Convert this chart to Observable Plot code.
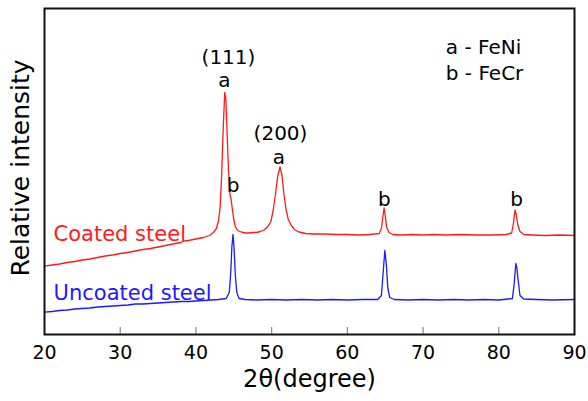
<!DOCTYPE html>
<html>
<head>
<meta charset="utf-8">
<script src="https://cdn.jsdelivr.net/npm/d3@7"></script>
<script src="https://cdn.jsdelivr.net/npm/@observablehq/plot@0.6"></script>
<style>
  html, body { margin: 0; padding: 0; background: #fff; }
  #chart svg { display: block; }
</style>
</head>
<body>
<div id="chart"></div>
<script>
// ---- Data (2θ in degrees, relative intensity in arbitrary units) ----
const coatedTheta = [20,21,22,23,24,25,26,27,28,29,30,31,32,33,34,35,36,37,38,38.5,39,40,41,41.8,42.3,42.7,43.0,43.2,43.4,43.6,43.8,43.95,44.1,44.3,44.5,44.65,44.8,45.0,45.2,45.5,46,46.5,47,47.5,48,48.5,49,49.5,49.9,50.2,50.5,50.8,51.1,51.35,51.6,51.9,52.2,52.6,53.0,53.6,54.5,55.5,57,58.5,60,61.5,63,64.2,64.5,64.7,64.85,65.0,65.2,65.5,66,67,68.5,70,71.5,73,75,77,79,81,81.7,81.95,82.15,82.3,82.5,82.8,83.3,84.5,86,88,90];
const coatedIntensity = [68.3,69.5,70.5,72,73,74.5,75.5,77,78.5,79.5,81,82,83.5,85,86,87.5,89,90.5,92,93.5,94,95.5,97,99,102,106,114,128,160,205,242,236,205,165,140,135,126,115,108,104,102.5,101.5,101.5,102,102,103,104.5,108,113,124,140,158,167.5,160,142,125,115,109,105,102.5,101,100.5,100.5,100,100,99.5,100,101,106,118,126.5,119,107,102,100,99.5,100,99.5,100,99.5,100,99.5,99.5,100,101.5,112,124.5,120,110,103,100,99.5,99,99.5,99];

const uncoatedTheta = [20,21,22,23,24,25,26,27,28,29,30,31,32,33,34,35,36,37,38,39,40,41,42,43,44.0,44.4,44.6,44.75,44.9,45.05,45.2,45.4,45.7,46.5,48,50,52,54,56,58,60,62,64.0,64.5,64.75,64.95,65.15,65.35,65.6,66.2,68,70,72,74,76,78,80,81.8,82.05,82.25,82.4,82.5,82.8,83.3,85,87,90];
const uncoatedIntensity = [22.3,23,24,24.5,25.5,26,26.5,27.5,28,28.5,29,29.5,30.5,30.5,31,31.5,32,32.5,33,33,33.5,34,34.5,35,36,42,62,88,100,85,60,42,36,35,34.5,35,34.5,35,34.5,35,34.5,35,35,39,64,84,70,46,37,35,34.5,35,34.5,35,34.5,35,34.5,36,52,71,66,58,39,35.5,35,34.5,35];

const xTicks = [20, 30, 40, 50, 60, 70, 80, 90];

const peakText = ["(111)", "a", "b", "(200)", "a", "b", "b"];
const peakTheta = [44.3, 43.77, 44.9, 51.17, 50.95, 64.9, 82.34];
const peakIntensity = [277, 253.5, 148.7, 201, 177, 135.4, 135.4];

const phaseText = ["a - FeNi", "b - FeCr"];
const phaseTheta = [73.0, 73.0];
const phaseIntensity = [287, 261];

const seriesNames = ["Coated steel", "Uncoated steel"];
const seriesColors = ["#ff1a1a", "#1a1aff"];
const seriesLabelTheta = [21.2, 21.2];
const seriesLabelIntensity = [100.5, 41.3];

const xLabel = "2θ(degree)";
const yLabel = "Relative intensity";

// ---- Build tables ----
const coated = coatedTheta.map((t, i) => ({theta: t, I: coatedIntensity[i]}));
const uncoated = uncoatedTheta.map((t, i) => ({theta: t, I: uncoatedIntensity[i]}));
const peaks = peakText.map((s, i) => ({text: s, theta: peakTheta[i], I: peakIntensity[i]}));
const phases = phaseText.map((s, i) => ({text: s, theta: phaseTheta[i], I: phaseIntensity[i]}));
const seriesLabels = seriesNames.map((s, i) => ({text: s, color: seriesColors[i], theta: seriesLabelTheta[i], I: seriesLabelIntensity[i]}));

const W = 588, H = 401;
const mTop = 8, mBottom = 67, mLeft = 44, mRight = 14;
const frameH = H - mTop - mBottom;
const FONT = "DejaVu Sans";

const chart = Plot.plot({
  width: W,
  height: H,
  marginTop: mTop,
  marginBottom: mBottom,
  marginLeft: mLeft,
  marginRight: mRight,
  style: {fontFamily: FONT, background: "#fff", color: "#000"},
  x: {domain: [20, 90]},
  y: {domain: [0, frameH], axis: null},
  marks: [
    Plot.tickX(xTicks.slice(1, -1), {x: d => d, stroke: "#8a8a8a", strokeWidth: 1.2, insetTop: frameH - 7}),
    Plot.axisX({ticks: xTicks, tickSize: 0, tickPadding: 11, fontSize: 19, label: null, fill: "#000"}),
    Plot.line(coated, {x: "theta", y: "I", stroke: seriesColors[0], strokeWidth: 1.3}),
    Plot.line(uncoated, {x: "theta", y: "I", stroke: seriesColors[1], strokeWidth: 1.3}),
    Plot.text(peaks, {x: "theta", y: "I", text: "text", fontSize: 20, fill: "#000"}),
    Plot.text(phases, {x: "theta", y: "I", text: "text", fontSize: 20, textAnchor: "start", fill: "#000"}),
    Plot.text(seriesLabels, {x: "theta", y: "I", text: "text", fill: "color", fontSize: 21, textAnchor: "start"}),
    Plot.text([xLabel], {text: d => d, frameAnchor: "bottom", dy: 52, fontSize: 24, fill: "#000"}),
    Plot.text([yLabel], {text: d => d, frameAnchor: "left", textAnchor: "middle", rotate: -90, dx: -24, dy: -3.5, fontSize: 25, fill: "#000"}),
    Plot.frame({stroke: "#111", strokeWidth: 2})
  ]
});

document.getElementById("chart").appendChild(chart);
</script>
</body>
</html>
